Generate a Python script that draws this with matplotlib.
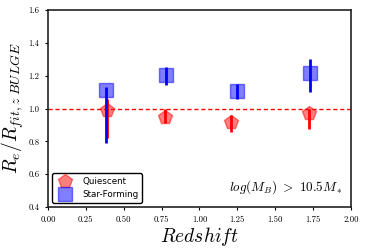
import numpy as np
import matplotlib
matplotlib.use("Agg")
import matplotlib.pyplot as plt

plt.rcParams['mathtext.fontset'] = 'cm'
plt.rcParams['font.family'] = 'serif'
plt.rcParams['font.serif'] = ['cmr10']
plt.rcParams['axes.formatter.use_mathtext'] = True

# quiescent
z_q = np.array([0.39, 0.77, 1.21, 1.72])
r_q = np.array([0.99, 0.95, 0.92, 0.97])
lo_q = np.array([0.17, 0.04, 0.065, 0.095])
hi_q = np.array([0.07, 0.05, 0.04, 0.03])

# star-forming
z_sf = np.array([0.38, 0.78, 1.25, 1.73])
r_sf = np.array([1.115, 1.205, 1.11, 1.22])
lo_sf = np.array([0.325, 0.06, 0.05, 0.12])
hi_sf = np.array([0.015, 0.05, 0.04, 0.085])

fig = plt.figure(figsize=(3.66, 2.49), dpi=100)
ax = fig.add_axes([0.131, 0.169, 0.828, 0.79])

ax.axhline(1.0, color='red', linestyle=(0, (3, 2)), linewidth=1)

ax.plot(z_q, r_q, 'p', color='red', alpha=0.5, markersize=10, label='Quiescent')
ax.plot(z_sf, r_sf, 's', color='blue', alpha=0.5, markersize=10, label='Star-Forming')
ax.errorbar(z_q, r_q, yerr=[lo_q, hi_q], fmt='none', ecolor='red', elinewidth=2)
ax.errorbar(z_sf, r_sf, yerr=[lo_sf, hi_sf], fmt='none', ecolor='blue', elinewidth=2)

ax.set_xlim(0, 2.0)
ax.set_ylim(0.4, 1.6)
ax.set_xticks(np.arange(0, 2.01, 0.25))
ax.set_yticks(np.arange(0.4, 1.61, 0.2))
ax.xaxis.set_major_formatter(matplotlib.ticker.FormatStrFormatter('%.2f'))
ax.yaxis.set_major_formatter(matplotlib.ticker.FormatStrFormatter('%.1f'))
ax.tick_params(labelsize=6.3, length=2.5, width=0.8)
for s in ax.spines.values():
    s.set_linewidth(1.2)
    s.set_color('#222222')

ax.set_xlabel('$Redshift$', fontsize=14, labelpad=1)
ax.set_ylabel('$R_e/R_{fit,z\\ BULGE}$', fontsize=14, labelpad=2)
ax.text(0.975, 0.1, '$log(M_B)\\ >\\ 10.5M_*$', transform=ax.transAxes,
        ha='right', va='center', fontsize=9.5)

leg = ax.legend(loc='lower left', prop={'family': 'DejaVu Sans', 'size': 6.3},
                frameon=True, borderpad=0.4, handletextpad=1.0)
leg.get_frame().set_edgecolor('black')
leg.get_frame().set_alpha(1)

plt.savefig('out.png', dpi=100)
